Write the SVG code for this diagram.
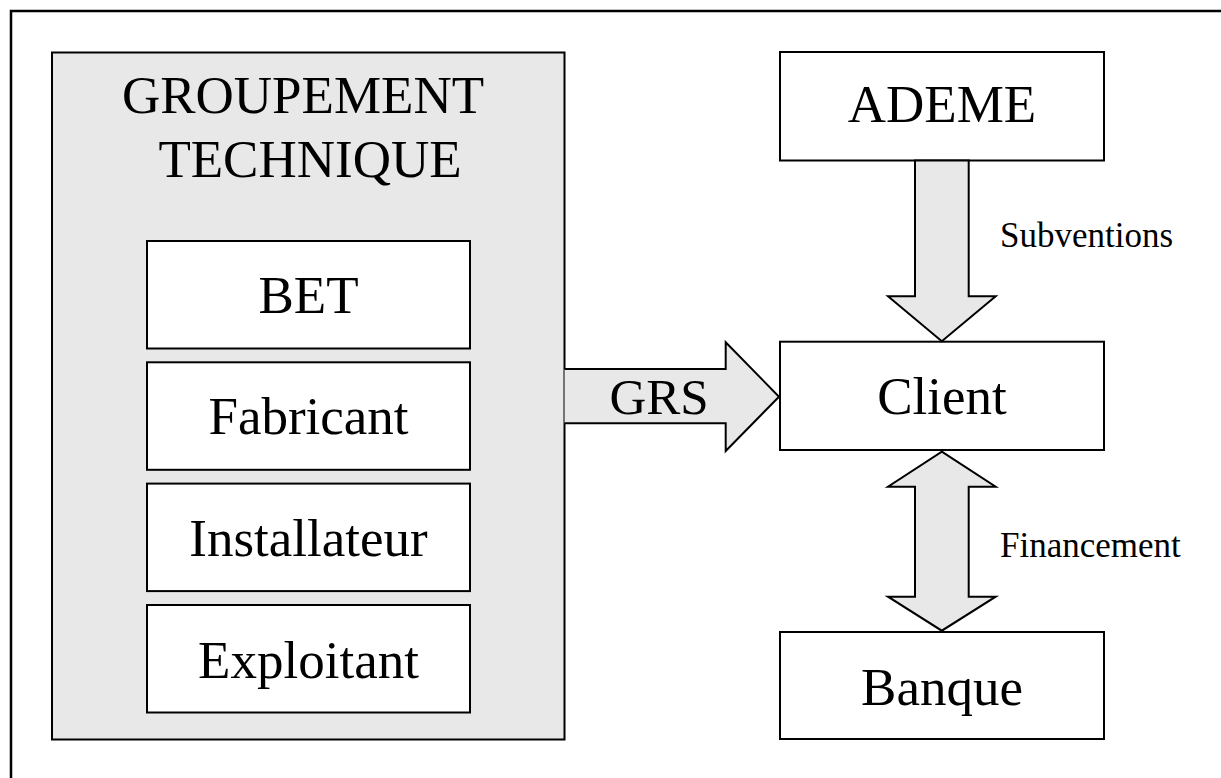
<svg xmlns="http://www.w3.org/2000/svg" width="1221" height="778" viewBox="0 0 1221 778">
<style>
  .box{fill:#ffffff;stroke:#000;stroke-width:2}
  .grp{fill:#e8e8e8;stroke:#000;stroke-width:2}
  .arr{fill:#e8e8e8;stroke:#000;stroke-width:2;stroke-linejoin:miter}
  .big{font-family:"Liberation Serif","Times New Roman",serif;font-size:53px;fill:#000;text-anchor:middle}
  .small{font-family:"Liberation Serif","Times New Roman",serif;font-size:35px;fill:#000}
</style>
<rect width="1221" height="778" fill="#ffffff"/>
<rect x="11" y="11" width="1240" height="800" fill="none" stroke="#000" stroke-width="2.5"/>

<g id="groupement">
  <rect class="grp" x="52" y="52.5" width="512.5" height="687"/>
  <text class="big" x="303" y="113">GROUPEMENT</text>
  <text class="big" x="310" y="177">TECHNIQUE</text>
</g>
<g id="bet">
  <rect class="box" x="147" y="241" width="323" height="107.5"/>
  <text class="big" x="308.5" y="313">BET</text>
</g>
<g id="fabricant">
  <rect class="box" x="147" y="362.3" width="323" height="107.5"/>
  <text class="big" x="308.5" y="434">Fabricant</text>
</g>
<g id="installateur">
  <rect class="box" x="147" y="483.6" width="323" height="107.5"/>
  <text class="big" x="308.5" y="556">Installateur</text>
</g>
<g id="exploitant">
  <rect class="box" x="147" y="605" width="323" height="107.5"/>
  <text class="big" x="308.5" y="678">Exploitant</text>
</g>

<g id="ademe">
  <rect class="box" x="780" y="52" width="324" height="108.5"/>
  <text class="big" x="942" y="122">ADEME</text>
</g>
<g id="client">
  <rect class="box" x="780" y="341.7" width="324" height="108.3"/>
  <text class="big" x="942" y="414">Client</text>
</g>
<g id="banque">
  <rect class="box" x="780" y="632" width="324" height="107"/>
  <text class="big" x="942" y="705">Banque</text>
</g>

<g id="connectors">
  <path class="arr" d="M564.5,369 H725.7 V342.3 L779,396.7 L725.7,451 V423.3 H564.5"/>
  <text class="big" x="659" y="413.5" style="font-size:51px">GRS</text>
  <path class="arr" d="M915,160.5 V296.3 H888 L941.8,341.3 L995.7,296.3 H968.7 V160.5 Z"/>
  <text class="small" x="1000" y="247.3">Subventions</text>
  <path class="arr" d="M941.8,451.7 L995.7,486.7 H968.7 V596.7 H995.7 L941.8,630.7 L888,596.7 H915 V486.7 H888 Z"/>
  <text class="small" x="1000" y="557.3">Financement</text>
</g>
</svg>
